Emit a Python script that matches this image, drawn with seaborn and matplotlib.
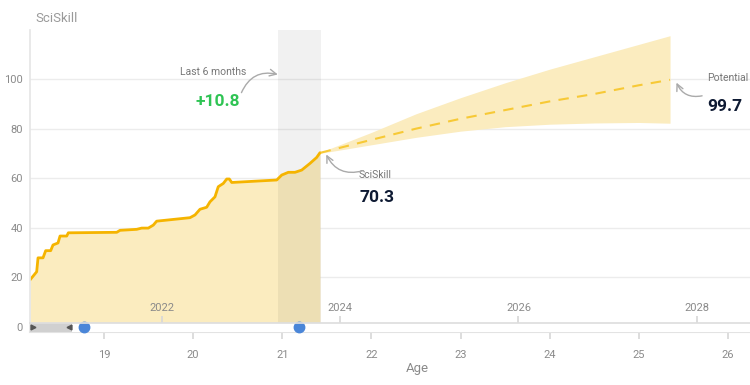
import numpy as np
import pandas as pd
import seaborn as sns
import matplotlib.pyplot as plt

sns.set_theme(style='white')
plt.rcParams['font.family'] = ['Roboto', 'DejaVu Sans']

# skill history (age in years, score)
hist_age = [18.17, 18.245, 18.26, 18.316, 18.346, 18.402, 18.428, 18.484, 18.507, 18.582, 18.6,
            19.143, 19.18, 19.367, 19.423, 19.497, 19.553, 19.591, 19.965, 20.021, 20.077, 20.152,
            20.189, 20.245, 20.282, 20.338, 20.377, 20.406, 20.433, 20.938, 20.994, 21.068, 21.143,
            21.218, 21.311, 21.386, 21.423]
hist_score = [19.0, 22.3, 27.9, 27.9, 30.8, 30.8, 33.1, 33.9, 36.7, 36.7, 38.0,
              38.2, 39.0, 39.4, 39.9, 39.9, 41.1, 42.7, 44.1, 45.2, 47.5, 48.3,
              50.5, 52.5, 56.6, 57.9, 59.7, 59.7, 58.3, 59.3, 61.3, 62.4, 62.4,
              63.3, 66.0, 68.4, 70.3]

# forecast towards potential
fc_age = [21.43, 22.0, 22.5, 23.0, 23.5, 24.0, 24.5, 25.0, 25.35]
fc_mean = [70.3, 75.5, 80.0, 84.0, 87.5, 91.0, 94.0, 97.5, 99.7]
fc_upper = [70.5, 78.5, 86.0, 92.5, 98.5, 104.0, 109.0, 114.0, 117.5]
fc_lower = [70.1, 73.5, 76.5, 79.0, 80.8, 81.8, 82.3, 82.5, 82.2]

last6 = (20.95, 21.43)
age_ticks = [19, 20, 21, 22, 23, 24, 25, 26]
year_ticks = [2022, 2024, 2026, 2028]
year_offset = 2002.35
y_ticks = [0, 20, 40, 60, 80, 100]
window = (18.17, 18.64)
marker_ages = [18.78, 21.19]

hist = pd.DataFrame({'age': hist_age, 'score': hist_score})
fc = pd.DataFrame({'age': fc_age, 'mean': fc_mean, 'upper': fc_upper, 'lower': fc_lower})

line_c = '#f5b400'
fill_c = '#fbecbf'
grey_txt = '#8a8a8a'

fig = plt.figure(figsize=(7.5, 3.85), dpi=100)
ax = fig.add_axes([0.04, 0.1377, 0.96, 0.7844])

ax.fill_between(hist['age'], 0, hist['score'], color=fill_c, lw=0, zorder=1)
ax.fill_between(fc['age'], fc['lower'], fc['upper'], color=fill_c, lw=0, zorder=1)
ax.axvspan(*last6, color='black', alpha=0.055, lw=0, zorder=1.5)
sns.lineplot(data=hist, x='age', y='score', ax=ax, color=line_c, lw=2, zorder=2)
sns.lineplot(data=fc, x='age', y='mean', ax=ax, color='#f7c936', lw=1.5, ls=(0, (5, 4)), zorder=2)

ax.set_xlim(18.17, 26.247)
ax.set_ylim(-2, 119.8)
ax.set_yticks(y_ticks)
ax.set_xticks(age_ticks)
ax.grid(axis='y', color='#ececec', lw=1)
ax.grid(axis='x', visible=False)
for s in ['top', 'right']:
    ax.spines[s].set_visible(False)
ax.spines['left'].set_color('#e6e6e6')
ax.spines['bottom'].set_color('#e3e3e3')
ax.spines['bottom'].set_linewidth(1.5)
ax.tick_params(axis='y', length=0, labelsize=8, labelcolor=grey_txt, pad=5)
ax.tick_params(axis='x', bottom=True, direction='out', length=5, color='#d8d8d8',
               labelsize=8, labelcolor=grey_txt, pad=8)
ax.set_xlabel('Age', color=grey_txt, fontsize=9.5)
ax.set_ylabel('')
ax.xaxis.set_label_coords((417 - 30) / 720, -0.1)

# scrollbar / navigator at the bottom
trans = ax.get_xaxis_transform()
bar_h = 9 / 302
ax.fill_between([18.17, 26.247], 0, bar_h, transform=trans, color='white', lw=0, zorder=3)
ax.fill_between(list(window), 0.0, bar_h, transform=trans, color='#d0d0d0', lw=0, zorder=4)
ax.plot([window[0] + 0.03], [bar_h / 2], transform=trans, marker='>', ms=3.5, color='#555', zorder=5)
ax.plot([window[1] - 0.03], [bar_h / 2], transform=trans, marker='<', ms=3.5, color='#555', zorder=5)
ax.plot(marker_ages, [bar_h / 2] * len(marker_ages), transform=trans, ls='none', marker='o',
        ms=7.5, color='#4a86d8', zorder=6, clip_on=False)

secax = ax.secondary_xaxis(bar_h, functions=(lambda a: a + year_offset, lambda y: y - year_offset))
secax.set_alignment('top')
secax.set_zorder(7)
secax.set_xticks(year_ticks)
secax.spines['top'].set_color('#dedede')
secax.tick_params(axis='x', direction='out', length=5, color='#d8d8d8',
                  labelsize=8, labelcolor=grey_txt, pad=2)

# annotations
arrow = dict(arrowstyle='->', color='#aaaaaa', lw=1, connectionstyle='arc3,rad=-0.45')
ax.text(20.22, 102.8, 'Last 6 months', ha='center', va='center', fontsize=7.5, color='#777777')
ax.text(20.28, 91.1, '+10.8', ha='center', va='center', fontsize=12.5, fontweight='bold', color='#2fc454')
ax.annotate('', xy=(20.98, 101.6), xytext=(20.53, 93.5), arrowprops=arrow)

ax.text(22.04, 61.3, 'SciSkill', ha='center', va='center', fontsize=7.5, color='#777777')
ax.text(22.06, 52.4, '70.3', ha='center', va='center', fontsize=12.5, fontweight='bold', color='#0e1a33')
ax.annotate('', xy=(21.48, 70.6), xytext=(21.93, 63.3), arrowprops=arrow)

ax.text(26.0, 100.4, 'Potential', ha='center', va='center', fontsize=7.5, color='#777777')
ax.text(25.97, 89.1, '99.7', ha='center', va='center', fontsize=12.5, fontweight='bold', color='#0e1a33')
ax.annotate('', xy=(25.41, 99.6), xytext=(25.74, 93.5), arrowprops=arrow)

fig.text(35 / 750, 1 - 18 / 385, 'SciSkill', ha='left', va='center', fontsize=9.5, color='#9a9a9a')

plt.savefig('out.png', dpi=100)
